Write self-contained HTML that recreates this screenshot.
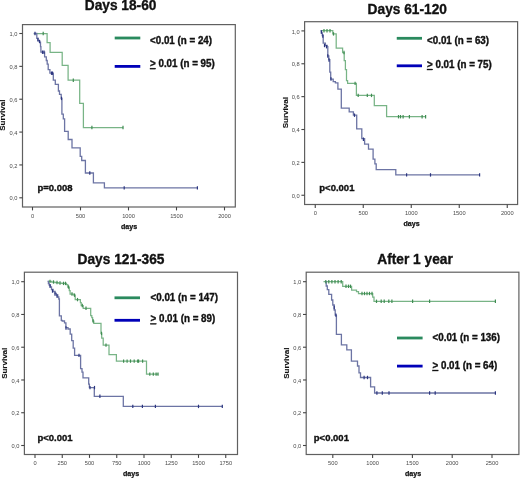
<!DOCTYPE html>
<html><head><meta charset="utf-8">
<style>
html,body{margin:0;padding:0;background:#fff;}
body{width:520px;height:478px;overflow:hidden;}
svg{display:block;will-change:transform;filter:blur(0.3px);}
text{font-family:"Liberation Sans", sans-serif;}
.tk{font-size:5.7px;fill:#4a4a4a;}
.lg{font-size:10px;font-weight:bold;fill:#111;stroke:#111;stroke-width:0.35px;}
.pv{font-size:9.5px;font-weight:bold;fill:#111;stroke:#111;stroke-width:0.35px;}
.ti{font-size:14px;font-weight:bold;fill:#111;stroke:#111;stroke-width:0.35px;}
.dy{font-size:7.1px;font-weight:bold;fill:#111;stroke:#111;stroke-width:0.25px;}
.sv{font-size:8px;font-weight:bold;fill:#111;stroke:#111;stroke-width:0.12px;}
</style></head>
<body><svg width="520" height="478" viewBox="0 0 520 478">

<rect x="22.5" y="24.6" width="212.80" height="182.40" fill="none" stroke="#606060" stroke-width="1.2"/>
<line x1="19.30" y1="33.50" x2="22.5" y2="33.50" stroke="#444" stroke-width="1.1"/>
<text transform="translate(17.50,36.10) scale(1.0,1)" class="tk" text-anchor="end">1,0</text>
<line x1="19.30" y1="66.36" x2="22.5" y2="66.36" stroke="#444" stroke-width="1.1"/>
<text transform="translate(17.50,68.96) scale(1.0,1)" class="tk" text-anchor="end">0,8</text>
<line x1="19.30" y1="99.22" x2="22.5" y2="99.22" stroke="#444" stroke-width="1.1"/>
<text transform="translate(17.50,101.82) scale(1.0,1)" class="tk" text-anchor="end">0,6</text>
<line x1="19.30" y1="132.08" x2="22.5" y2="132.08" stroke="#444" stroke-width="1.1"/>
<text transform="translate(17.50,134.68) scale(1.0,1)" class="tk" text-anchor="end">0,4</text>
<line x1="19.30" y1="164.94" x2="22.5" y2="164.94" stroke="#444" stroke-width="1.1"/>
<text transform="translate(17.50,167.54) scale(1.0,1)" class="tk" text-anchor="end">0,2</text>
<line x1="19.30" y1="197.80" x2="22.5" y2="197.80" stroke="#444" stroke-width="1.1"/>
<text transform="translate(17.50,200.40) scale(1.0,1)" class="tk" text-anchor="end">0,0</text>
<line x1="32.50" y1="207.0" x2="32.50" y2="210.40" stroke="#444" stroke-width="1.1"/>
<text transform="translate(32.50,217.80) scale(1.0,1)" class="tk" text-anchor="middle">0</text>
<line x1="80.50" y1="207.0" x2="80.50" y2="210.40" stroke="#444" stroke-width="1.1"/>
<text transform="translate(80.50,217.80) scale(1.0,1)" class="tk" text-anchor="middle">500</text>
<line x1="128.50" y1="207.0" x2="128.50" y2="210.40" stroke="#444" stroke-width="1.1"/>
<text transform="translate(128.50,217.80) scale(1.0,1)" class="tk" text-anchor="middle">1000</text>
<line x1="176.50" y1="207.0" x2="176.50" y2="210.40" stroke="#444" stroke-width="1.1"/>
<text transform="translate(176.50,217.80) scale(1.0,1)" class="tk" text-anchor="middle">1500</text>
<line x1="224.50" y1="207.0" x2="224.50" y2="210.40" stroke="#444" stroke-width="1.1"/>
<text transform="translate(224.50,217.80) scale(1.0,1)" class="tk" text-anchor="middle">2000</text>
<path d="M33.8,33.5 H47.1 V42.6 H50.1 V52.3 H62.2 V65.4 H68.1 V80.2 H79.7 V103.4 H83.4 V127.5 H123.2" fill="none" stroke="#78b486" stroke-width="1.25"/>
<path d="M33.8,33.5 H36.8 V38.4 H37.9 V40.9 H39.6 V42.1 H40.5 V46.7 H40.9 V52.2 H44.6 V56.8 H46.3 V60.5 H47.2 V64.2 H48.2 V69.6 H49.9 V73.2 H53.3 V80.1 H55.3 V84.3 H58.4 V91.0 H59.5 V94.3 H61.2 V98.4 H61.9 V114.2 H63.3 V118.8 H64.6 V131.4 H68.2 V139.5 H72.0 V147.8 H80.2 V156.4 H81.7 V160.5 H85.4 V173.0 H93.4 V182.8 H104.4 V187.9 H197.6" fill="none" stroke="#6c74a4" stroke-width="1.3"/>
<line x1="43.2" y1="31.80" x2="43.2" y2="35.20" stroke="#3f8c52" stroke-width="1.2"/>
<line x1="73.3" y1="78.50" x2="73.3" y2="81.90" stroke="#3f8c52" stroke-width="1.2"/>
<line x1="91.9" y1="125.80" x2="91.9" y2="129.20" stroke="#3f8c52" stroke-width="1.2"/>
<line x1="123.0" y1="125.80" x2="123.0" y2="129.20" stroke="#3f8c52" stroke-width="1.2"/>
<line x1="35" y1="31.80" x2="35" y2="35.20" stroke="#2c3680" stroke-width="1.2"/>
<line x1="38" y1="37.80" x2="38" y2="41.20" stroke="#2c3680" stroke-width="1.2"/>
<line x1="39.5" y1="39.80" x2="39.5" y2="43.20" stroke="#2c3680" stroke-width="1.2"/>
<line x1="42.5" y1="50.50" x2="42.5" y2="53.90" stroke="#2c3680" stroke-width="1.2"/>
<line x1="44" y1="50.50" x2="44" y2="53.90" stroke="#2c3680" stroke-width="1.2"/>
<line x1="51.5" y1="71.50" x2="51.5" y2="74.90" stroke="#2c3680" stroke-width="1.2"/>
<line x1="52.5" y1="71.50" x2="52.5" y2="74.90" stroke="#2c3680" stroke-width="1.2"/>
<line x1="61.5" y1="96.70" x2="61.5" y2="100.10" stroke="#2c3680" stroke-width="1.2"/>
<line x1="89.8" y1="171.30" x2="89.8" y2="174.70" stroke="#2c3680" stroke-width="1.2"/>
<line x1="124.2" y1="186.20" x2="124.2" y2="189.60" stroke="#2c3680" stroke-width="1.2"/>
<line x1="197.4" y1="186.20" x2="197.4" y2="189.60" stroke="#2c3680" stroke-width="1.2"/>
<line x1="114.7" y1="38.0" x2="140.3" y2="38.0" stroke="#2a8a5e" stroke-width="2.8"/>
<line x1="114.7" y1="66.39999999999999" x2="140.3" y2="66.39999999999999" stroke="#0000b8" stroke-width="2.8"/>
<text transform="translate(150.00,43.90) scale(0.98,1)" class="lg">&lt;0.01 (n = 24)</text>
<text transform="translate(150.00,67.10) scale(0.98,1)" class="lg"><tspan text-decoration="underline">&gt;</tspan> 0.01 (n = 95)</text>
<text transform="translate(37.40,191.30) scale(1.0,1)" class="pv">p=0.008</text>
<text transform="translate(120.60,10.00) scale(0.98,1)" class="ti" text-anchor="middle">Days 18-60</text>
<text transform="translate(129.00,228.60) scale(1.0,1)" class="dy" text-anchor="middle">days</text>
<text transform="translate(5.20,115.20) rotate(-90) scale(1.0,1)" class="sv" text-anchor="middle">Survival</text>
<rect x="304.6" y="21.7" width="213.00" height="182.80" fill="none" stroke="#606060" stroke-width="1.2"/>
<line x1="301.40" y1="30.90" x2="304.6" y2="30.90" stroke="#444" stroke-width="1.1"/>
<text transform="translate(299.60,33.50) scale(1.0,1)" class="tk" text-anchor="end">1,0</text>
<line x1="301.40" y1="63.77" x2="304.6" y2="63.77" stroke="#444" stroke-width="1.1"/>
<text transform="translate(299.60,66.37) scale(1.0,1)" class="tk" text-anchor="end">0,8</text>
<line x1="301.40" y1="96.64" x2="304.6" y2="96.64" stroke="#444" stroke-width="1.1"/>
<text transform="translate(299.60,99.24) scale(1.0,1)" class="tk" text-anchor="end">0,6</text>
<line x1="301.40" y1="129.51" x2="304.6" y2="129.51" stroke="#444" stroke-width="1.1"/>
<text transform="translate(299.60,132.11) scale(1.0,1)" class="tk" text-anchor="end">0,4</text>
<line x1="301.40" y1="162.38" x2="304.6" y2="162.38" stroke="#444" stroke-width="1.1"/>
<text transform="translate(299.60,164.98) scale(1.0,1)" class="tk" text-anchor="end">0,2</text>
<line x1="301.40" y1="195.25" x2="304.6" y2="195.25" stroke="#444" stroke-width="1.1"/>
<text transform="translate(299.60,197.85) scale(1.0,1)" class="tk" text-anchor="end">0,0</text>
<line x1="315.25" y1="204.5" x2="315.25" y2="207.90" stroke="#444" stroke-width="1.1"/>
<text transform="translate(315.25,215.30) scale(1.0,1)" class="tk" text-anchor="middle">0</text>
<line x1="363.25" y1="204.5" x2="363.25" y2="207.90" stroke="#444" stroke-width="1.1"/>
<text transform="translate(363.25,215.30) scale(1.0,1)" class="tk" text-anchor="middle">500</text>
<line x1="411.25" y1="204.5" x2="411.25" y2="207.90" stroke="#444" stroke-width="1.1"/>
<text transform="translate(411.25,215.30) scale(1.0,1)" class="tk" text-anchor="middle">1000</text>
<line x1="459.25" y1="204.5" x2="459.25" y2="207.90" stroke="#444" stroke-width="1.1"/>
<text transform="translate(459.25,215.30) scale(1.0,1)" class="tk" text-anchor="middle">1500</text>
<line x1="507.25" y1="204.5" x2="507.25" y2="207.90" stroke="#444" stroke-width="1.1"/>
<text transform="translate(507.25,215.30) scale(1.0,1)" class="tk" text-anchor="middle">2000</text>
<path d="M320.7,30.7 H332.8 V33.9 H336.2 V48.2 H342.6 V52.5 H344.2 V60.6 H345.4 V69.5 H346.5 V80.5 H347.6 V83.4 H356.4 V95.4 H374.3 V105.5 H386.6 V116.7 H425.9" fill="none" stroke="#78b486" stroke-width="1.25"/>
<path d="M320.5,30.8 H321.3 V33 H322.3 V35.5 H323.2 V43.2 H325.4 V45.5 H327.2 V46.7 H327.8 V55.9 H328.8 V59.6 H329.8 V72.2 H330.7 V79.1 H333.2 V81.7 H335.4 V82.9 H337.9 V89.2 H341.3 V108.2 H349.2 V111.8 H353.4 V115.2 H356.7 V128.9 H361.8 V138.6 H364.6 V144.2 H368.5 V149.2 H373.1 V159.2 H374.9 V163.8 H376.2 V169.7 H395.8 V174.9 H479.6" fill="none" stroke="#6c74a4" stroke-width="1.3"/>
<line x1="324" y1="29.00" x2="324" y2="32.40" stroke="#3f8c52" stroke-width="1.2"/>
<line x1="327" y1="29.00" x2="327" y2="32.40" stroke="#3f8c52" stroke-width="1.2"/>
<line x1="330" y1="29.00" x2="330" y2="32.40" stroke="#3f8c52" stroke-width="1.2"/>
<line x1="333.5" y1="32.20" x2="333.5" y2="35.60" stroke="#3f8c52" stroke-width="1.2"/>
<line x1="344" y1="50.80" x2="344" y2="54.20" stroke="#3f8c52" stroke-width="1.2"/>
<line x1="355.1" y1="81.70" x2="355.1" y2="85.10" stroke="#3f8c52" stroke-width="1.2"/>
<line x1="358.2" y1="93.70" x2="358.2" y2="97.10" stroke="#3f8c52" stroke-width="1.2"/>
<line x1="367.3" y1="93.70" x2="367.3" y2="97.10" stroke="#3f8c52" stroke-width="1.2"/>
<line x1="371.5" y1="93.70" x2="371.5" y2="97.10" stroke="#3f8c52" stroke-width="1.2"/>
<line x1="398.5" y1="115.00" x2="398.5" y2="118.40" stroke="#3f8c52" stroke-width="1.2"/>
<line x1="400.5" y1="115.00" x2="400.5" y2="118.40" stroke="#3f8c52" stroke-width="1.2"/>
<line x1="403.1" y1="115.00" x2="403.1" y2="118.40" stroke="#3f8c52" stroke-width="1.2"/>
<line x1="409.4" y1="115.00" x2="409.4" y2="118.40" stroke="#3f8c52" stroke-width="1.2"/>
<line x1="422.1" y1="115.00" x2="422.1" y2="118.40" stroke="#3f8c52" stroke-width="1.2"/>
<line x1="425.6" y1="115.00" x2="425.6" y2="118.40" stroke="#3f8c52" stroke-width="1.2"/>
<line x1="321.5" y1="30.30" x2="321.5" y2="33.70" stroke="#2c3680" stroke-width="1.2"/>
<line x1="322.8" y1="34.30" x2="322.8" y2="37.70" stroke="#2c3680" stroke-width="1.2"/>
<line x1="324.5" y1="43.80" x2="324.5" y2="47.20" stroke="#2c3680" stroke-width="1.2"/>
<line x1="326.5" y1="45.00" x2="326.5" y2="48.40" stroke="#2c3680" stroke-width="1.2"/>
<line x1="327.8" y1="54.30" x2="327.8" y2="57.70" stroke="#2c3680" stroke-width="1.2"/>
<line x1="329" y1="58.30" x2="329" y2="61.70" stroke="#2c3680" stroke-width="1.2"/>
<line x1="331" y1="77.30" x2="331" y2="80.70" stroke="#2c3680" stroke-width="1.2"/>
<line x1="354.5" y1="113.50" x2="354.5" y2="116.90" stroke="#2c3680" stroke-width="1.2"/>
<line x1="363.4" y1="137.50" x2="363.4" y2="140.90" stroke="#2c3680" stroke-width="1.2"/>
<line x1="406.6" y1="173.20" x2="406.6" y2="176.60" stroke="#2c3680" stroke-width="1.2"/>
<line x1="430.5" y1="173.20" x2="430.5" y2="176.60" stroke="#2c3680" stroke-width="1.2"/>
<line x1="479.6" y1="173.20" x2="479.6" y2="176.60" stroke="#2c3680" stroke-width="1.2"/>
<line x1="396.75" y1="38.3" x2="422.0" y2="38.3" stroke="#2a8a5e" stroke-width="2.8"/>
<line x1="396.75" y1="65.8" x2="422.0" y2="65.8" stroke="#0000b8" stroke-width="2.8"/>
<text transform="translate(427.00,44.00) scale(0.98,1)" class="lg">&lt;0.01 (n = 63)</text>
<text transform="translate(427.00,68.00) scale(0.98,1)" class="lg"><tspan text-decoration="underline">&gt;</tspan> 0.01 (n = 75)</text>
<text transform="translate(319.30,191.30) scale(1.0,1)" class="pv">p&lt;0.001</text>
<text transform="translate(407.25,14.40) scale(0.98,1)" class="ti" text-anchor="middle">Days 61-120</text>
<text transform="translate(411.50,225.90) scale(1.0,1)" class="dy" text-anchor="middle">days</text>
<text transform="translate(288.20,112.70) rotate(-90) scale(1.0,1)" class="sv" text-anchor="middle">Survival</text>
<rect x="24.4" y="272.2" width="213.10" height="182.30" fill="none" stroke="#606060" stroke-width="1.2"/>
<line x1="21.20" y1="281.70" x2="24.4" y2="281.70" stroke="#444" stroke-width="1.1"/>
<text transform="translate(19.40,284.30) scale(1.0,1)" class="tk" text-anchor="end">1,0</text>
<line x1="21.20" y1="314.46" x2="24.4" y2="314.46" stroke="#444" stroke-width="1.1"/>
<text transform="translate(19.40,317.06) scale(1.0,1)" class="tk" text-anchor="end">0,8</text>
<line x1="21.20" y1="347.22" x2="24.4" y2="347.22" stroke="#444" stroke-width="1.1"/>
<text transform="translate(19.40,349.82) scale(1.0,1)" class="tk" text-anchor="end">0,6</text>
<line x1="21.20" y1="379.98" x2="24.4" y2="379.98" stroke="#444" stroke-width="1.1"/>
<text transform="translate(19.40,382.58) scale(1.0,1)" class="tk" text-anchor="end">0,4</text>
<line x1="21.20" y1="412.74" x2="24.4" y2="412.74" stroke="#444" stroke-width="1.1"/>
<text transform="translate(19.40,415.34) scale(1.0,1)" class="tk" text-anchor="end">0,2</text>
<line x1="21.20" y1="445.50" x2="24.4" y2="445.50" stroke="#444" stroke-width="1.1"/>
<text transform="translate(19.40,448.10) scale(1.0,1)" class="tk" text-anchor="end">0,0</text>
<line x1="35.00" y1="454.5" x2="35.00" y2="457.90" stroke="#444" stroke-width="1.1"/>
<text transform="translate(35.00,465.30) scale(1.0,1)" class="tk" text-anchor="middle">0</text>
<line x1="62.25" y1="454.5" x2="62.25" y2="457.90" stroke="#444" stroke-width="1.1"/>
<text transform="translate(62.25,465.30) scale(1.0,1)" class="tk" text-anchor="middle">250</text>
<line x1="89.50" y1="454.5" x2="89.50" y2="457.90" stroke="#444" stroke-width="1.1"/>
<text transform="translate(89.50,465.30) scale(1.0,1)" class="tk" text-anchor="middle">500</text>
<line x1="116.75" y1="454.5" x2="116.75" y2="457.90" stroke="#444" stroke-width="1.1"/>
<text transform="translate(116.75,465.30) scale(1.0,1)" class="tk" text-anchor="middle">750</text>
<line x1="144.00" y1="454.5" x2="144.00" y2="457.90" stroke="#444" stroke-width="1.1"/>
<text transform="translate(144.00,465.30) scale(1.0,1)" class="tk" text-anchor="middle">1000</text>
<line x1="171.25" y1="454.5" x2="171.25" y2="457.90" stroke="#444" stroke-width="1.1"/>
<text transform="translate(171.25,465.30) scale(1.0,1)" class="tk" text-anchor="middle">1250</text>
<line x1="198.50" y1="454.5" x2="198.50" y2="457.90" stroke="#444" stroke-width="1.1"/>
<text transform="translate(198.50,465.30) scale(1.0,1)" class="tk" text-anchor="middle">1500</text>
<line x1="225.75" y1="454.5" x2="225.75" y2="457.90" stroke="#444" stroke-width="1.1"/>
<text transform="translate(225.75,465.30) scale(1.0,1)" class="tk" text-anchor="middle">1750</text>
<path d="M47.8,281.4 H51.7 V282 H55.1 V282.5 H58.5 V283 H61.8 V283.4 H66.5 V284.5 H67.8 V287 H69.3 V290.5 H70.1 V294 H73.8 V295.2 H75.2 V299.6 H80.4 V302.5 H81.2 V305.5 H83.2 V308.3 H90.7 V315.5 H91.8 V317.5 H92.6 V321 H93.8 V323.4 H101.0 V333.4 H101.7 V338 H103.2 V345.1 H109.0 V354.5 H116.4 V361.1 H146.5 V374.1 H158.3" fill="none" stroke="#78b486" stroke-width="1.25"/>
<path d="M47.6,281.4 H48.4 V283.5 H49.2 V285 H50.4 V287 H51.5 V289.5 H53.1 V291.5 H55.1 V293.5 H56.4 V295 H57.8 V297 H58.8 V299 H59.4 V315.9 H61.3 V320.3 H62.2 V321 H64.5 V322.8 H65.9 V327.6 H68.0 V329 H70.2 V334.2 H71.7 V340.7 H73.2 V348.1 H74.6 V355.4 H80.6 V368.7 H82.0 V372.1 H83.0 V377.8 H88.7 V384.2 H89.4 V387.6 H94.3 V396.3 H123.3 V406.4 H222.5" fill="none" stroke="#6c74a4" stroke-width="1.3"/>
<line x1="50" y1="279.70" x2="50" y2="283.10" stroke="#3f8c52" stroke-width="1.2"/>
<line x1="53.5" y1="280.30" x2="53.5" y2="283.70" stroke="#3f8c52" stroke-width="1.2"/>
<line x1="57" y1="280.80" x2="57" y2="284.20" stroke="#3f8c52" stroke-width="1.2"/>
<line x1="60" y1="281.30" x2="60" y2="284.70" stroke="#3f8c52" stroke-width="1.2"/>
<line x1="63.5" y1="281.70" x2="63.5" y2="285.10" stroke="#3f8c52" stroke-width="1.2"/>
<line x1="65.5" y1="281.70" x2="65.5" y2="285.10" stroke="#3f8c52" stroke-width="1.2"/>
<line x1="68.5" y1="285.30" x2="68.5" y2="288.70" stroke="#3f8c52" stroke-width="1.2"/>
<line x1="72" y1="292.30" x2="72" y2="295.70" stroke="#3f8c52" stroke-width="1.2"/>
<line x1="74.5" y1="293.50" x2="74.5" y2="296.90" stroke="#3f8c52" stroke-width="1.2"/>
<line x1="77.5" y1="297.90" x2="77.5" y2="301.30" stroke="#3f8c52" stroke-width="1.2"/>
<line x1="82.3" y1="303.80" x2="82.3" y2="307.20" stroke="#3f8c52" stroke-width="1.2"/>
<line x1="86" y1="306.60" x2="86" y2="310.00" stroke="#3f8c52" stroke-width="1.2"/>
<line x1="93.2" y1="319.30" x2="93.2" y2="322.70" stroke="#3f8c52" stroke-width="1.2"/>
<line x1="101.5" y1="331.70" x2="101.5" y2="335.10" stroke="#3f8c52" stroke-width="1.2"/>
<line x1="106" y1="343.40" x2="106" y2="346.80" stroke="#3f8c52" stroke-width="1.2"/>
<line x1="123.6" y1="359.40" x2="123.6" y2="362.80" stroke="#3f8c52" stroke-width="1.2"/>
<line x1="127.1" y1="359.40" x2="127.1" y2="362.80" stroke="#3f8c52" stroke-width="1.2"/>
<line x1="130.5" y1="359.40" x2="130.5" y2="362.80" stroke="#3f8c52" stroke-width="1.2"/>
<line x1="134.2" y1="359.40" x2="134.2" y2="362.80" stroke="#3f8c52" stroke-width="1.2"/>
<line x1="137.7" y1="359.40" x2="137.7" y2="362.80" stroke="#3f8c52" stroke-width="1.2"/>
<line x1="138.6" y1="359.40" x2="138.6" y2="362.80" stroke="#3f8c52" stroke-width="1.2"/>
<line x1="142.6" y1="359.40" x2="142.6" y2="362.80" stroke="#3f8c52" stroke-width="1.2"/>
<line x1="149.8" y1="372.40" x2="149.8" y2="375.80" stroke="#3f8c52" stroke-width="1.2"/>
<line x1="153.3" y1="372.40" x2="153.3" y2="375.80" stroke="#3f8c52" stroke-width="1.2"/>
<line x1="156.1" y1="372.40" x2="156.1" y2="375.80" stroke="#3f8c52" stroke-width="1.2"/>
<line x1="158.0" y1="372.40" x2="158.0" y2="375.80" stroke="#3f8c52" stroke-width="1.2"/>
<line x1="50" y1="284.30" x2="50" y2="287.70" stroke="#2c3680" stroke-width="1.2"/>
<line x1="52.5" y1="289.30" x2="52.5" y2="292.70" stroke="#2c3680" stroke-width="1.2"/>
<line x1="55" y1="292.30" x2="55" y2="295.70" stroke="#2c3680" stroke-width="1.2"/>
<line x1="57" y1="294.30" x2="57" y2="297.70" stroke="#2c3680" stroke-width="1.2"/>
<line x1="66" y1="326.30" x2="66" y2="329.70" stroke="#2c3680" stroke-width="1.2"/>
<line x1="79" y1="353.70" x2="79" y2="357.10" stroke="#2c3680" stroke-width="1.2"/>
<line x1="90" y1="385.90" x2="90" y2="389.30" stroke="#2c3680" stroke-width="1.2"/>
<line x1="94.5" y1="385.90" x2="94.5" y2="389.30" stroke="#2c3680" stroke-width="1.2"/>
<line x1="99.9" y1="394.60" x2="99.9" y2="398.00" stroke="#2c3680" stroke-width="1.2"/>
<line x1="132.8" y1="404.70" x2="132.8" y2="408.10" stroke="#2c3680" stroke-width="1.2"/>
<line x1="142.4" y1="404.70" x2="142.4" y2="408.10" stroke="#2c3680" stroke-width="1.2"/>
<line x1="155.4" y1="404.70" x2="155.4" y2="408.10" stroke="#2c3680" stroke-width="1.2"/>
<line x1="198.5" y1="404.70" x2="198.5" y2="408.10" stroke="#2c3680" stroke-width="1.2"/>
<line x1="222.3" y1="404.70" x2="222.3" y2="408.10" stroke="#2c3680" stroke-width="1.2"/>
<line x1="114.5" y1="297.8" x2="140.0" y2="297.8" stroke="#2a8a5e" stroke-width="2.8"/>
<line x1="114.5" y1="320.3" x2="140.0" y2="320.3" stroke="#0000b8" stroke-width="2.8"/>
<text transform="translate(150.50,300.60) scale(0.98,1)" class="lg">&lt;0.01 (n = 147)</text>
<text transform="translate(150.50,322.30) scale(0.98,1)" class="lg"><tspan text-decoration="underline">&gt;</tspan> 0.01 (n = 89)</text>
<text transform="translate(37.40,441.10) scale(1.0,1)" class="pv">p&lt;0.001</text>
<text transform="translate(121.00,264.20) scale(0.98,1)" class="ti" text-anchor="middle">Days 121-365</text>
<text transform="translate(131.10,475.80) scale(1.0,1)" class="dy" text-anchor="middle">days</text>
<text transform="translate(7.30,363.30) rotate(-90) scale(1.0,1)" class="sv" text-anchor="middle">Survival</text>
<rect x="306.2" y="272.2" width="212.70" height="182.30" fill="none" stroke="#606060" stroke-width="1.2"/>
<line x1="303.00" y1="281.70" x2="306.2" y2="281.70" stroke="#444" stroke-width="1.1"/>
<text transform="translate(301.20,284.30) scale(1.0,1)" class="tk" text-anchor="end">1,0</text>
<line x1="303.00" y1="314.46" x2="306.2" y2="314.46" stroke="#444" stroke-width="1.1"/>
<text transform="translate(301.20,317.06) scale(1.0,1)" class="tk" text-anchor="end">0,8</text>
<line x1="303.00" y1="347.22" x2="306.2" y2="347.22" stroke="#444" stroke-width="1.1"/>
<text transform="translate(301.20,349.82) scale(1.0,1)" class="tk" text-anchor="end">0,6</text>
<line x1="303.00" y1="379.98" x2="306.2" y2="379.98" stroke="#444" stroke-width="1.1"/>
<text transform="translate(301.20,382.58) scale(1.0,1)" class="tk" text-anchor="end">0,4</text>
<line x1="303.00" y1="412.74" x2="306.2" y2="412.74" stroke="#444" stroke-width="1.1"/>
<text transform="translate(301.20,415.34) scale(1.0,1)" class="tk" text-anchor="end">0,2</text>
<line x1="303.00" y1="445.50" x2="306.2" y2="445.50" stroke="#444" stroke-width="1.1"/>
<text transform="translate(301.20,448.10) scale(1.0,1)" class="tk" text-anchor="end">0,0</text>
<line x1="332.80" y1="454.5" x2="332.80" y2="457.90" stroke="#444" stroke-width="1.1"/>
<text transform="translate(332.80,465.30) scale(1.0,1)" class="tk" text-anchor="middle">500</text>
<line x1="372.60" y1="454.5" x2="372.60" y2="457.90" stroke="#444" stroke-width="1.1"/>
<text transform="translate(372.60,465.30) scale(1.0,1)" class="tk" text-anchor="middle">1000</text>
<line x1="412.40" y1="454.5" x2="412.40" y2="457.90" stroke="#444" stroke-width="1.1"/>
<text transform="translate(412.40,465.30) scale(1.0,1)" class="tk" text-anchor="middle">1500</text>
<line x1="452.20" y1="454.5" x2="452.20" y2="457.90" stroke="#444" stroke-width="1.1"/>
<text transform="translate(452.20,465.30) scale(1.0,1)" class="tk" text-anchor="middle">2000</text>
<line x1="492.00" y1="454.5" x2="492.00" y2="457.90" stroke="#444" stroke-width="1.1"/>
<text transform="translate(492.00,465.30) scale(1.0,1)" class="tk" text-anchor="middle">2500</text>
<path d="M323.5,281.7 H342.7 V286.3 H351.6 V290.2 H356.5 V291.7 H358.5 V293.5 H372.7 V297 H374 V301.3 H495.4" fill="none" stroke="#78b486" stroke-width="1.25"/>
<path d="M325.0,281.7 H326.2 V286 H327.3 V289.7 H328.8 V294.3 H331.6 V300 H332.8 V305 H334.2 V310 H335.2 V315.1 H336.4 V334.3 H341.4 V344.9 H346.8 V349.9 H351.4 V361.2 H357.5 V366 H359.0 V372.8 H360.5 V377.5 H370.6 V386.9 H374.6 V393.0 H495.4" fill="none" stroke="#6c74a4" stroke-width="1.3"/>
<line x1="325.8" y1="280.00" x2="325.8" y2="283.40" stroke="#3f8c52" stroke-width="1.2"/>
<line x1="328.8" y1="280.00" x2="328.8" y2="283.40" stroke="#3f8c52" stroke-width="1.2"/>
<line x1="331.9" y1="280.00" x2="331.9" y2="283.40" stroke="#3f8c52" stroke-width="1.2"/>
<line x1="335" y1="280.00" x2="335" y2="283.40" stroke="#3f8c52" stroke-width="1.2"/>
<line x1="338.1" y1="280.00" x2="338.1" y2="283.40" stroke="#3f8c52" stroke-width="1.2"/>
<line x1="341.2" y1="280.00" x2="341.2" y2="283.40" stroke="#3f8c52" stroke-width="1.2"/>
<line x1="346" y1="284.60" x2="346" y2="288.00" stroke="#3f8c52" stroke-width="1.2"/>
<line x1="348.5" y1="284.60" x2="348.5" y2="288.00" stroke="#3f8c52" stroke-width="1.2"/>
<line x1="350.5" y1="284.60" x2="350.5" y2="288.00" stroke="#3f8c52" stroke-width="1.2"/>
<line x1="362" y1="291.80" x2="362" y2="295.20" stroke="#3f8c52" stroke-width="1.2"/>
<line x1="364.5" y1="291.80" x2="364.5" y2="295.20" stroke="#3f8c52" stroke-width="1.2"/>
<line x1="367" y1="291.80" x2="367" y2="295.20" stroke="#3f8c52" stroke-width="1.2"/>
<line x1="369.5" y1="291.80" x2="369.5" y2="295.20" stroke="#3f8c52" stroke-width="1.2"/>
<line x1="372" y1="291.80" x2="372" y2="295.20" stroke="#3f8c52" stroke-width="1.2"/>
<line x1="376.5" y1="299.60" x2="376.5" y2="303.00" stroke="#3f8c52" stroke-width="1.2"/>
<line x1="381.2" y1="299.60" x2="381.2" y2="303.00" stroke="#3f8c52" stroke-width="1.2"/>
<line x1="384.2" y1="299.60" x2="384.2" y2="303.00" stroke="#3f8c52" stroke-width="1.2"/>
<line x1="388.8" y1="299.60" x2="388.8" y2="303.00" stroke="#3f8c52" stroke-width="1.2"/>
<line x1="391.9" y1="299.60" x2="391.9" y2="303.00" stroke="#3f8c52" stroke-width="1.2"/>
<line x1="412.6" y1="299.60" x2="412.6" y2="303.00" stroke="#3f8c52" stroke-width="1.2"/>
<line x1="429.6" y1="299.60" x2="429.6" y2="303.00" stroke="#3f8c52" stroke-width="1.2"/>
<line x1="495.4" y1="299.60" x2="495.4" y2="303.00" stroke="#3f8c52" stroke-width="1.2"/>
<line x1="334.2" y1="305.80" x2="334.2" y2="309.20" stroke="#2c3680" stroke-width="1.2"/>
<line x1="335.9" y1="313.40" x2="335.9" y2="316.80" stroke="#2c3680" stroke-width="1.2"/>
<line x1="364.1" y1="375.80" x2="364.1" y2="379.20" stroke="#2c3680" stroke-width="1.2"/>
<line x1="367.5" y1="375.80" x2="367.5" y2="379.20" stroke="#2c3680" stroke-width="1.2"/>
<line x1="376.9" y1="391.30" x2="376.9" y2="394.70" stroke="#2c3680" stroke-width="1.2"/>
<line x1="382.3" y1="391.30" x2="382.3" y2="394.70" stroke="#2c3680" stroke-width="1.2"/>
<line x1="389" y1="391.30" x2="389" y2="394.70" stroke="#2c3680" stroke-width="1.2"/>
<line x1="429.6" y1="391.30" x2="429.6" y2="394.70" stroke="#2c3680" stroke-width="1.2"/>
<line x1="435.2" y1="391.30" x2="435.2" y2="394.70" stroke="#2c3680" stroke-width="1.2"/>
<line x1="495.4" y1="391.30" x2="495.4" y2="394.70" stroke="#2c3680" stroke-width="1.2"/>
<line x1="397.0" y1="338.0" x2="422.6" y2="338.0" stroke="#2a8a5e" stroke-width="2.8"/>
<line x1="397.0" y1="366.1" x2="422.6" y2="366.1" stroke="#0000b8" stroke-width="2.8"/>
<text transform="translate(432.50,340.60) scale(0.98,1)" class="lg">&lt;0.01 (n = 136)</text>
<text transform="translate(432.50,369.00) scale(0.98,1)" class="lg"><tspan text-decoration="underline">&gt;</tspan> 0.01 (n = 64)</text>
<text transform="translate(313.80,441.10) scale(1.0,1)" class="pv">p&lt;0.001</text>
<text transform="translate(415.00,264.20) scale(0.98,1)" class="ti" text-anchor="middle">After 1 year</text>
<text transform="translate(413.10,475.80) scale(1.0,1)" class="dy" text-anchor="middle">days</text>
<text transform="translate(289.40,363.20) rotate(-90) scale(1.0,1)" class="sv" text-anchor="middle">Survival</text>
</svg></body></html>
